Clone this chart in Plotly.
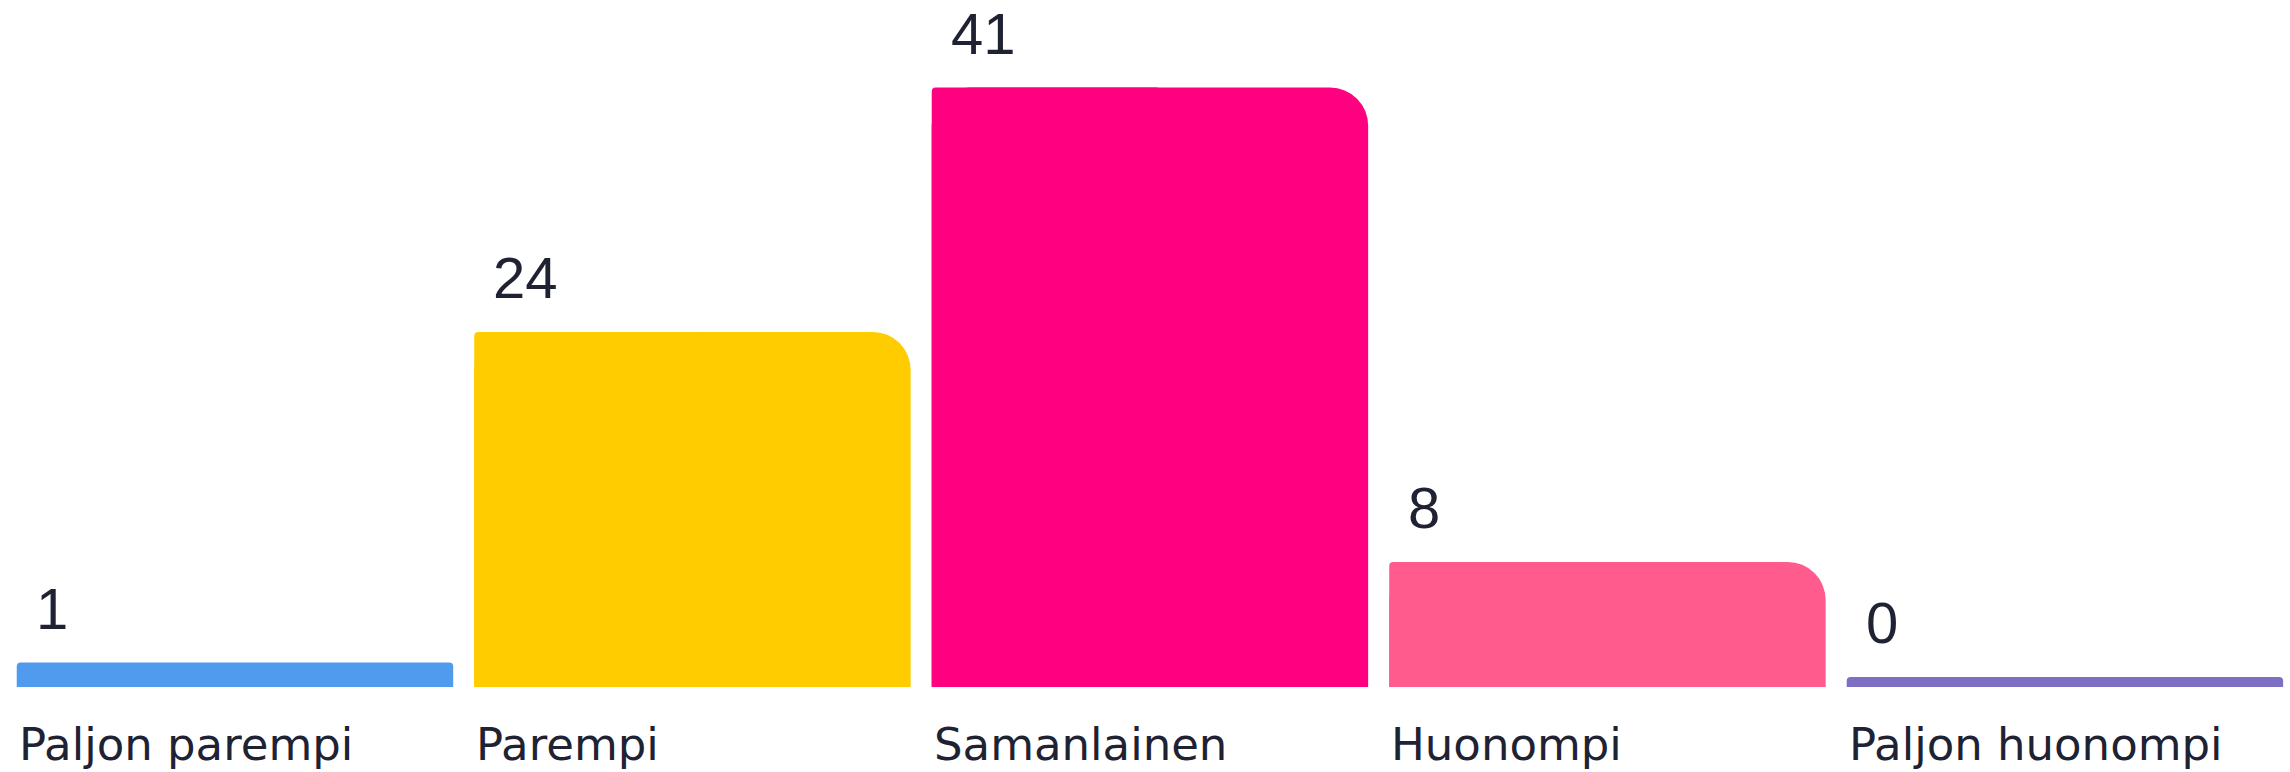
import plotly.graph_objects as go

categories = ["Paljon parempi", "Parempi", "Samanlainen", "Huonompi", "Paljon huonompi"]
values = [1, 24, 41, 8, 0]
colors = ["#509BEE", "#FFCC00", "#FF0080", "#FF5C8D", "#7F6FC4"]

STUB = 0.7          # visual stub so that a zero bar still shows as a thin bar
BAR_W = 0.954
HALF = BAR_W / 2
TEXT_COLOR = "#1E2233"

x = list(range(len(categories)))
heights = [v + STUB for v in values]
big = [h if v >= 3 else None for v, h in zip(values, heights)]

fig = go.Figure()
# full-width bars with large top rounding
fig.add_trace(go.Bar(
    x=x, y=big, width=BAR_W,
    marker=dict(color=colors, cornerradius=38, line=dict(width=0)),
    hoverinfo="skip", showlegend=False,
))
# left part (near-square top-left corner) and the small bars
fig.add_trace(go.Bar(
    x=x, y=heights,
    width=[BAR_W if v < 3 else 0.5 for v in values],
    offset=[-HALF] * len(values),
    marker=dict(color=colors, cornerradius=4, line=dict(width=0)),
    hoverinfo="skip", showlegend=False,
))

annotations = []
for i, (c, h) in enumerate(zip(categories, heights)):
    annotations.append(dict(
        x=i - HALF, y=h, xref="x", yref="y", text=str(values[i]),
        xanchor="left", yanchor="bottom", xshift=17, yshift=20,
        showarrow=False,
        font=dict(family="Liberation Sans", size=58, color=TEXT_COLOR),
    ))
    annotations.append(dict(
        x=i - HALF, y=0, xref="x", yref="paper", text=c,
        xanchor="left", yanchor="top", xshift=0, yshift=-29,
        showarrow=False,
        font=dict(family="DejaVu Sans", size=45, color=TEXT_COLOR),
    ))

fig.update_layout(
    width=2290, height=772,
    margin=dict(l=0, r=0, t=44, b=85),
    plot_bgcolor="white", paper_bgcolor="white",
    barmode="overlay",
    xaxis=dict(range=[-0.5136, 4.492], visible=False, fixedrange=True),
    yaxis=dict(range=[0, 44.73], visible=False, fixedrange=True),
    annotations=annotations,
)

fig.write_html(
    "out.html",
    config={"displayModeBar": False},
    post_script="document.body.style.margin='0';document.body.style.overflow='hidden';",
)
